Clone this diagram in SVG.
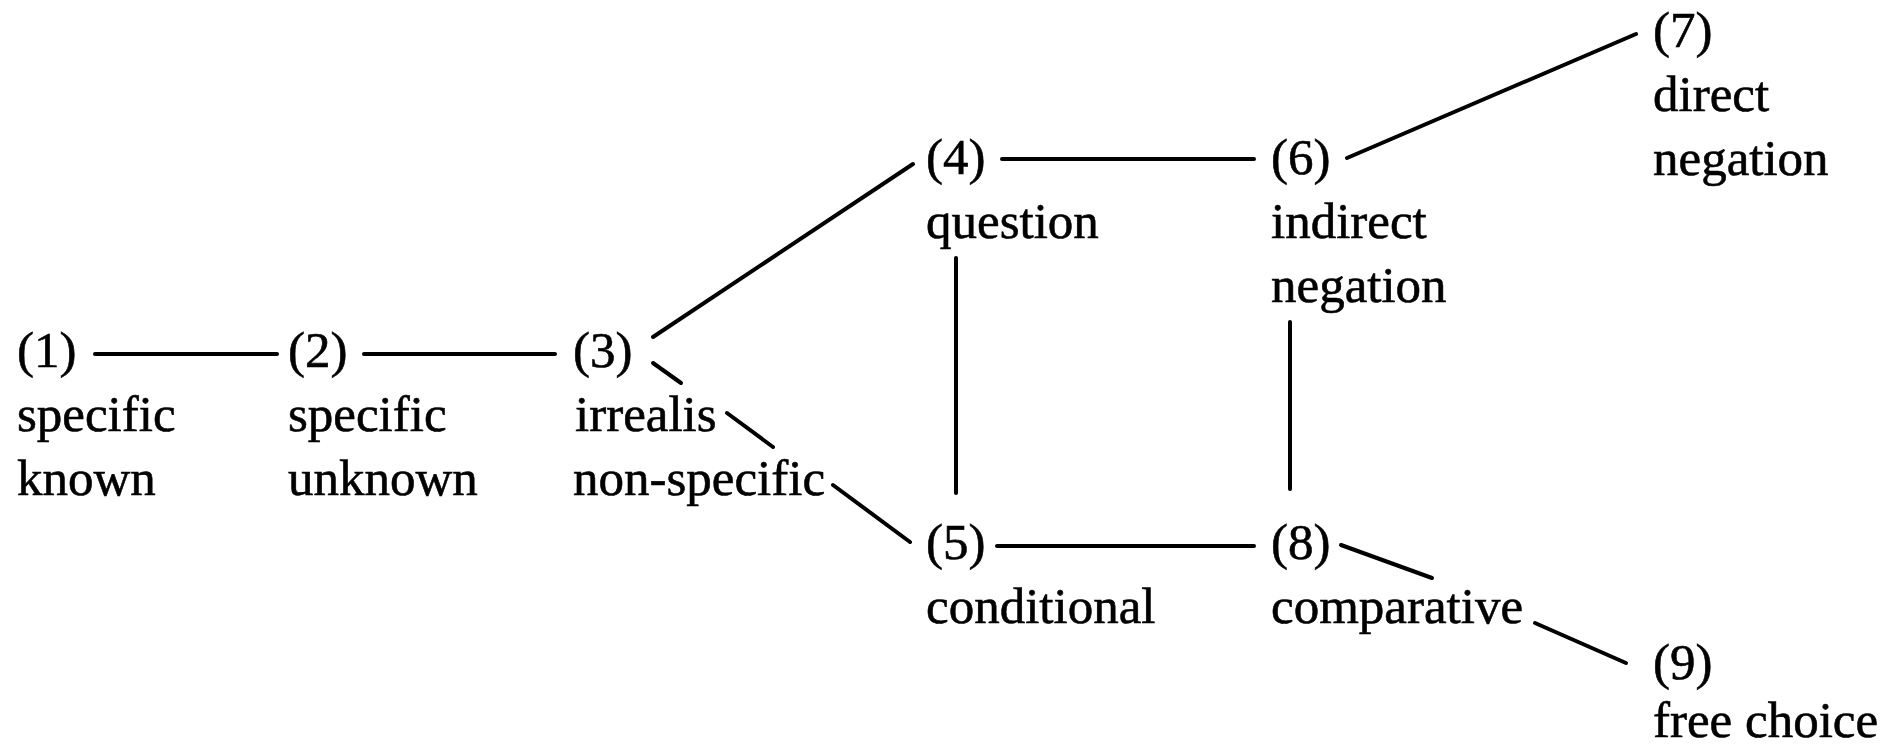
<svg xmlns="http://www.w3.org/2000/svg" width="1903" height="750" viewBox="0 0 1903 750">
<style>
text{font-family:"Liberation Serif","Times New Roman",serif;font-size:51px;fill:#000;stroke:#000;stroke-width:0.6}
.c line{stroke:#000;stroke-width:4;stroke-linecap:round}
</style>
<rect width="1903" height="750" fill="#fff"/>
<g class="c" id="connectors">
<line x1="95" y1="354" x2="277" y2="354"/>
<line x1="364" y1="354" x2="555" y2="354"/>
<line x1="653" y1="337" x2="913" y2="164"/>
<line x1="653" y1="363" x2="681" y2="383"/>
<line x1="727" y1="413" x2="773" y2="447"/>
<line x1="833" y1="485" x2="910" y2="542"/>
<line x1="1002" y1="159" x2="1254" y2="159"/>
<line x1="1347" y1="158" x2="1636" y2="34"/>
<line x1="956" y1="258" x2="956" y2="493"/>
<line x1="1290" y1="322" x2="1290" y2="489"/>
<line x1="997" y1="546" x2="1254" y2="546"/>
<line x1="1341" y1="545" x2="1432" y2="578"/>
<line x1="1535" y1="623" x2="1626" y2="663"/>
</g>
<g id="n1"><text x="17" y="367">(1)</text><text x="17" y="431">specific</text><text x="17" y="495">known</text></g>
<g id="n2"><text x="288" y="367">(2)</text><text x="288" y="431">specific</text><text x="288" y="495">unknown</text></g>
<g id="n3"><text x="573" y="367">(3)</text><text x="575" y="431">irrealis</text><text x="573" y="495">non-specific</text></g>
<g id="n4"><text x="926" y="174">(4)</text><text x="926" y="238">question</text></g>
<g id="n5"><text x="926" y="559">(5)</text><text x="926" y="623">conditional</text></g>
<g id="n6"><text x="1271" y="174">(6)</text><text x="1271" y="238">indirect</text><text x="1271" y="302">negation</text></g>
<g id="n7"><text x="1653" y="47">(7)</text><text x="1653" y="111">direct</text><text x="1653" y="175">negation</text></g>
<g id="n8"><text x="1271" y="559">(8)</text><text x="1271" y="623">comparative</text></g>
<g id="n9"><text x="1653" y="679">(9)</text><text x="1653" y="737">free choice</text></g>
</svg>
